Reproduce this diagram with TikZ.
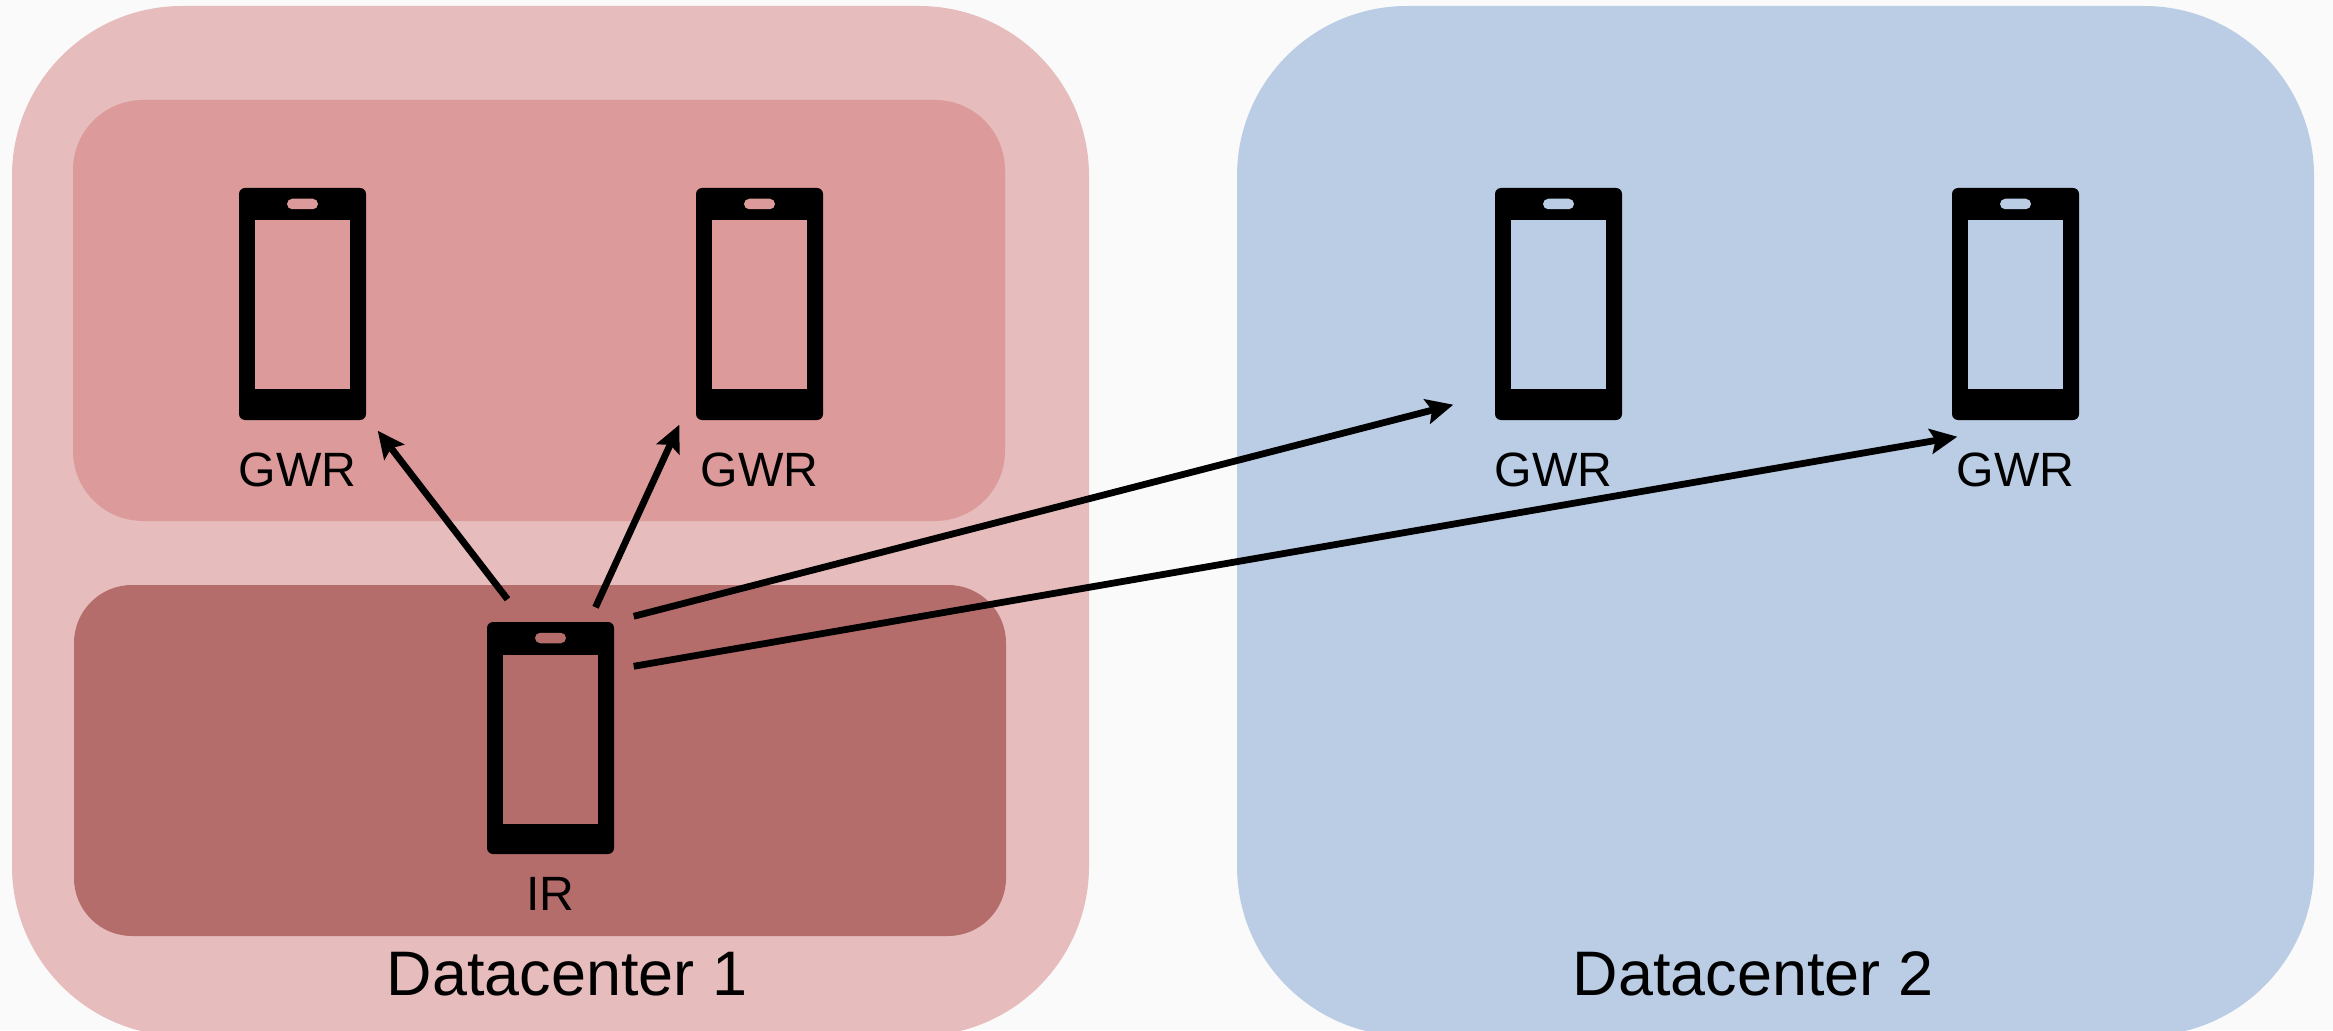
\documentclass[tikz,border=0pt]{standalone}
\usepackage{fontspec}
\setmainfont{Liberation Sans}
\usetikzlibrary{positioning,arrows.meta}
\definecolor{pagegray}{HTML}{FAFAFA}
\definecolor{dcred}{HTML}{E6BCBC}
\definecolor{midred}{HTML}{DC9B9A}
\definecolor{darkred}{HTML}{B56D6B}
\definecolor{dcblue}{HTML}{BACDE5}

\begin{document}
\begin{tikzpicture}
		[auto,
		region/.style ={rectangle, inner sep=0pt, minimum width=10.77cm, minimum height=10.30cm, rounded corners=1.7cm},
		zone/.style ={rectangle, inner sep=0pt, minimum width=9.32cm, rounded corners=.70cm},
		phone/.style ={rectangle, fill=black, inner sep=0pt, minimum width=1.27cm, minimum height=2.32cm, rounded corners=.06cm},
		screen/.style ={rectangle, inner sep=0pt, minimum width=.95cm, minimum height=1.69cm},
		notch/.style ={rectangle, inner sep=0pt, minimum width=.31cm, minimum height=.105cm, rounded corners=.0525cm},
		tag/.style ={inner sep=0pt, font=\fontsize{13.7}{16}\selectfont},
		title/.style ={inner sep=0pt, font=\fontsize{17.9}{21}\selectfont},
		line/.style ={draw, line width=.068cm, -{Stealth[length=.27cm,width=.25cm,inset=.05cm]}},
		]

		\useasboundingbox (0,0) rectangle (23.33,10.30);
		\fill[pagegray] (0,0) rectangle (23.33,10.30);

		\draw (5.505,5.09) node[region, fill=dcred] (DC1) {};
		\draw (17.755,5.09) node[region, fill=dcblue] (DC2) {};
		\draw (5.39,7.195) node[zone, fill=midred, minimum height=4.21cm] (Z1) {};
		\draw (5.40,2.695) node[zone, fill=darkred, minimum height=3.51cm, rounded corners=.58cm] (Z2) {};

		\draw (3.025,7.26) node[phone] (G1) {};
		\draw (G1)++(0,-.01) node[screen, fill=midred] (S1) {};
		\draw (G1)++(0,1) node[notch, fill=midred] (N1) {};
		\node[tag, below=.31cm of G1, xshift=-.05cm] (L1) {GWR};

		\draw (7.595,7.26) node[phone] (G2) {};
		\draw (G2)++(0,-.01) node[screen, fill=midred] (S2) {};
		\draw (G2)++(0,1) node[notch, fill=midred] (N2) {};
		\node[tag, below=.31cm of G2] (L2) {GWR};

		\draw (15.585,7.26) node[phone] (G3) {};
		\draw (G3)++(0,-.01) node[screen, fill=dcblue] (S3) {};
		\draw (G3)++(0,1) node[notch, fill=dcblue] (N3) {};
		\node[tag, below=.31cm of G3, xshift=-.05cm] (L3) {GWR};

		\draw (20.155,7.26) node[phone] (G4) {};
		\draw (G4)++(0,-.01) node[screen, fill=dcblue] (S4) {};
		\draw (G4)++(0,1) node[notch, fill=dcblue] (N4) {};
		\node[tag, below=.31cm of G4] (L4) {GWR};

		\draw (5.505,2.92) node[phone] (I1) {};
		\draw (I1)++(0,-.01) node[screen, fill=darkred] (S5) {};
		\draw (I1)++(0,1) node[notch, fill=darkred] (N5) {};
		\node[tag, below=.22cm of I1] (L5) {IR};

		\draw (5.67,.56) node[title] (T1) {Datacenter 1};
		\draw (17.53,.56) node[title] (T2) {Datacenter 2};

		\path[line] ([shift={(-.43,.22)}]I1.north) -- ([shift={(.11,-.10)}]G1.south east);
		\path[line] ([shift={(.45,.14)}]I1.north) -- ([shift={(-.16,-.04)}]G2.south west);
		\path[line] ([shift={(.19,.05)}]I1.north east) -- ([shift={(-.41,.16)}]G3.south west);
		\path[line] ([shift={(.19,-.45)}]I1.north east) -- ([shift={(.06,-.16)}]G4.south west);

	\end{tikzpicture}
\end{document}
